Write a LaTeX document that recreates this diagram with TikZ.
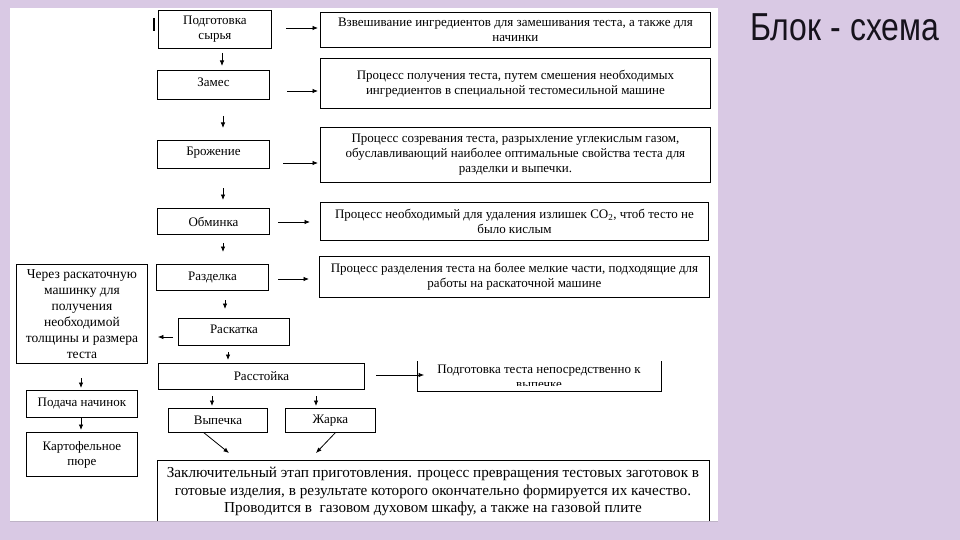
\documentclass[tikz,border=0pt]{standalone}
\usepackage{fontspec}
\setmainfont{Liberation Serif}
\newfontfamily\titlefont{Liberation Sans}
\usetikzlibrary{arrows.meta}
\definecolor{lav}{RGB}{217,201,228}
\definecolor{titlecol}{RGB}{22,18,28}
\newcommand\fsbox{\fontsize{13}{15}\selectfont}
\newcommand\fsleft{\fontsize{13.5}{16}\selectfont}
\newcommand\fsbig{\fontsize{15.2}{17.5}\selectfont}
\tikzset{
  boxnode/.style={draw, line width=0.9pt, inner sep=0pt, align=center, font=\fsbox, anchor=north west},
  shiftup/.style={text depth=6pt},
  txtnode/.style={inner sep=0pt, align=center, font=\fsbox},
  arr/.style={line width=0.8pt, -{Latex[length=5.5pt,width=4.5pt]}},
  edge/.style={line width=0.9pt}
}
\begin{document}
\begin{tikzpicture}[x=1pt,y=-1pt]
\useasboundingbox (0,0) rectangle (960,540);
\fill[lav] (0,0) rectangle (960,540);
\fill[white] (10,8) rectangle (718,521);
\draw[line width=0.6pt, color=lav!70!gray] (10,521) -- (718,521);

% title
\node[anchor=base west, inner sep=0pt, text=titlecol] (title) at (750,41)
  {\scalebox{0.82}[1]{\titlefont\fontsize{39}{40}\selectfont Блок - схема}};

% small bar
\draw[line width=2pt] (154,18) -- (154,31);

% main column
\node[boxnode, minimum width=113, minimum height=38] (A) at (158,10) {Подготовка\\сырья};
\node[boxnode, minimum width=390, minimum height=35] (A2) at (320,12)
  {Взвешивание ингредиентов для замешивания теста, а также для\\начинки};
\node[boxnode, shiftup, minimum width=112, minimum height=29] (B) at (157,70) {Замес};
\node[boxnode, minimum width=390, minimum height=50] (B2) at (320,58)
  {Процесс получения теста, путем смешения необходимых\\ингредиентов в специальной тестомесильной машине};
\node[boxnode, shiftup, minimum width=112, minimum height=28] (C) at (157,140) {Брожение};
\node[boxnode, minimum width=390, minimum height=55] (C2) at (320,127)
  {Процесс созревания теста, разрыхление углекислым газом,\\обуславливающий наиболее оптимальные свойства теста для\\разделки и выпечки.};
\node[boxnode, minimum width=112, minimum height=26] (D) at (157,208) {Обминка};
\node[boxnode, minimum width=388, minimum height=38] (D2) at (320,202)
  {Процесс необходимый для удаления излишек CO\textsubscript{2}, чтоб тесто не\\было кислым};
\node[boxnode, minimum width=112, minimum height=26] (E) at (156,264) {Разделка};
\node[boxnode, minimum width=390, minimum height=41] (E2) at (319,256)
  {Процесс разделения теста на более мелкие части, подходящие для\\работы на раскаточной машине};
\node[boxnode, shiftup, minimum width=111, minimum height=27] (F) at (178,318) {Раскатка};
\node[boxnode, font=\fsleft, minimum width=131, minimum height=99] (Lb) at (16,264)
  {Через раскаточную\\машинку для\\получения\\необходимой\\толщины и размера\\теста};
\node[boxnode, minimum width=206, minimum height=26] (G) at (158,363) {Расстойка};

% open-topped box G2
\draw[edge] (417,361) -- (417,391) -- (661,391) -- (661,361);
\begin{scope}
  \clip (417,355) rectangle (661,385.5);
  \node[txtnode, anchor=north] (G2) at (539,365) {Подготовка теста непосредственно к\\выпечке};
\end{scope}

\node[boxnode, minimum width=111, minimum height=27] (H) at (26,390) {Подача начинок};
\node[boxnode, minimum width=111, minimum height=44] (I) at (26,432) {Картофельное\\пюре};
\node[boxnode, minimum width=99, minimum height=24] (J) at (168,408) {Выпечка};
\node[boxnode, minimum width=90, minimum height=24] (K) at (285,408) {Жарка};

% final box, bottom cut by the page
\draw[edge] (157,521) -- (157,460) -- (709,460) -- (709,521);
\node[txtnode, font=\fsbig, anchor=north] (L) at (433,467)
  {Заключительный этап приготовления. процесс превращения тестовых заготовок в\\
   готовые изделия, в результате которого окончательно формируется их качество.\\
   Проводится в\ \ газовом духовом шкафу, а также на газовой плите};

% arrow start coordinates
\coordinate (h1) at (286,28);
\coordinate (h2) at (287,91);
\coordinate (h3) at (283,163);
\coordinate (h4) at (278,222);
\coordinate (h5) at (278,279);
\coordinate (h6) at (173,337);
\coordinate (h7) at (376,375);
\coordinate (v1) at (222,53);
\coordinate (v2) at (223,116);
\coordinate (v3) at (223,188);
\coordinate (v4) at (223,243);
\coordinate (v5) at (225,300);
\coordinate (v6) at (228,352);
\coordinate (v7) at (81,378);
\coordinate (v8) at (81,418);
\coordinate (v9) at (212,396);
\coordinate (v10) at (316,396);
\coordinate (d1s) at (203,432);
\coordinate (d1e) at (229,453);
\coordinate (d2s) at (336,432);
\coordinate (d2e) at (316,453);

% horizontal arrows
\draw[arr, shorten >=2pt] (h1) -- (h1 -| A2.west);
\draw[arr, shorten >=2pt] (h2) -- (h2 -| B2.west);
\draw[arr, shorten >=2pt] (h3) -- (h3 -| C2.west);
\draw[arr, shorten >=10pt] (h4) -- (h4 -| D2.west);
\draw[arr, shorten >=10pt] (h5) -- (h5 -| E2.west);
\draw[arr, shorten >=10pt] (h6) -- (h6 -| Lb.east);
\draw[arr, shorten >=13pt] (h7) -- (h7 -| G2.west);

% vertical arrows
\draw[arr, shorten >=4pt] (v1) -- (v1 |- B.north);
\draw[arr, shorten >=12pt] (v2) -- (v2 |- C.north);
\draw[arr, shorten >=8pt] (v3) -- (v3 |- D.north);
\draw[arr, shorten >=12pt] (v4) -- (v4 |- E.north);
\draw[arr, shorten >=9pt] (v5) -- (v5 |- F.north);
\draw[arr, shorten >=3pt] (v6) -- (v6 |- G.north);
\draw[arr, shorten >=2pt] (v7) -- (v7 |- H.north);
\draw[arr, shorten >=2pt] (v8) -- (v8 |- I.north);
\draw[arr, shorten >=2pt] (v9) -- (v9 |- J.north);
\draw[arr, shorten >=2pt] (v10) -- (v10 |- K.north);

% diagonal arrows
\draw[arr, shorten <=1pt] (d1s) -- (d1e);
\draw[arr, shorten <=1pt] (d2s) -- (d2e);
\end{tikzpicture}
\end{document}
